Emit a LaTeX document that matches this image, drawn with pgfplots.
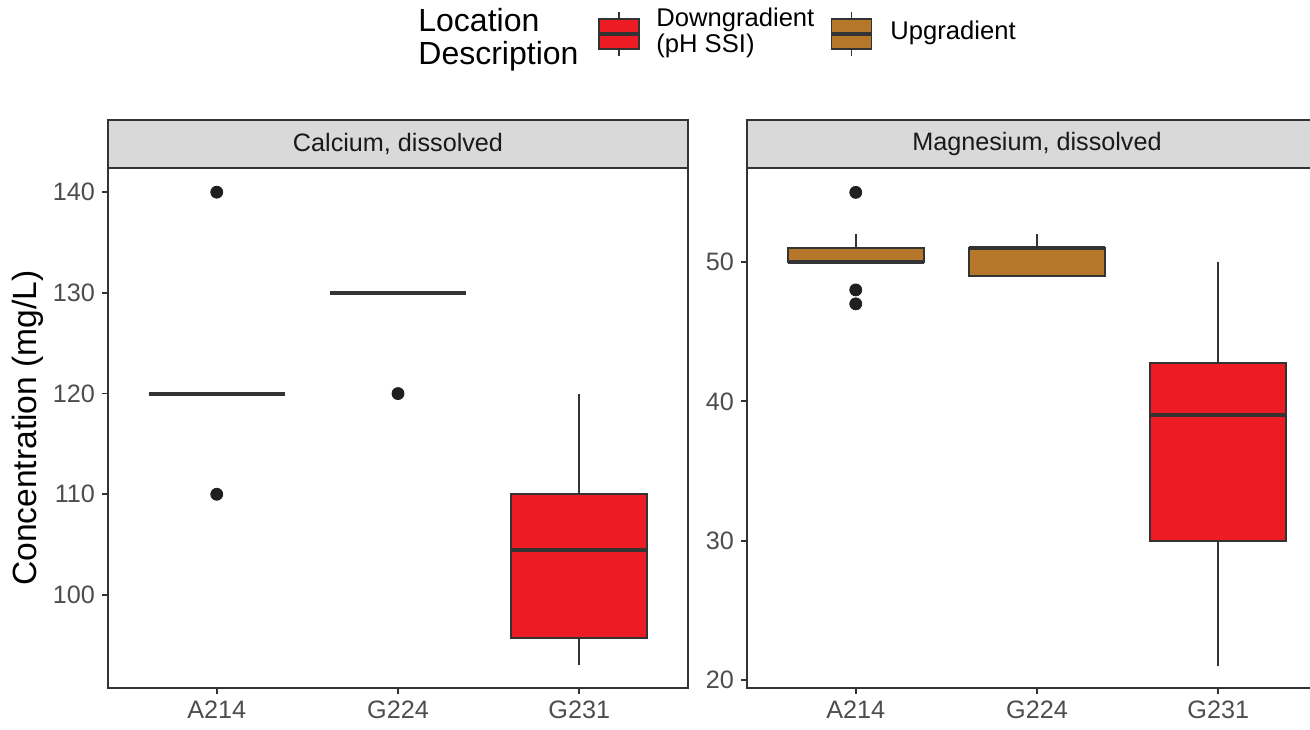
\documentclass[border=0pt]{standalone}
\usepackage{pgfplots}
\pgfplotsset{compat=1.18}
\usepgfplotslibrary{statistics}
\usepackage{fontspec}
\setmainfont{Liberation Sans}

\definecolor{boxred}{HTML}{ED1C24}
\definecolor{boxbrown}{HTML}{B5782B}
\definecolor{lnc}{HTML}{333333}
\definecolor{tickc}{HTML}{4D4D4D}
\definecolor{stripc}{HTML}{D9D9D9}
\definecolor{dotc}{HTML}{1F1F1F}

\pgfplotsset{
  panel/.style={
    scale only axis, width=290pt, height=260pt, anchor=south west,
    xmin=0.4, xmax=3.6, xtick={1,2,3}, xticklabels={A214,G224,G231},
    axis line style={draw=lnc, line width=0.9pt},
    tick style={draw=lnc, line width=0.9pt},
    tick align=outside, major tick length=3pt, tick pos=left,
    ticklabel style={font=\fontsize{12.6}{14}\selectfont, text=tickc},
    /pgf/number format/assume math mode=true,
    clip=false,
    boxplot/draw direction=y,
    boxplot/box extend=0.75,
    boxplot/whisker extend=0,
    boxplot/every box/.style={draw=lnc, line width=0.9pt},
    boxplot/every whisker/.style={draw=lnc, line width=0.9pt},
    boxplot/every median/.style={draw=lnc, line width=2pt},
    cycle list={{draw=lnc, mark=*}},
  },
  ol/.style={mark=*, mark size=3pt, mark options={fill=dotc, draw=dotc, line width=0.4pt}},
}

\begin{document}
\begin{tikzpicture}
% Calcium panel
\begin{axis}[panel, name=ca, at={(54pt,20.5pt)},
  ymin=90.76, ymax=142.4, ytick={100,110,120,130,140}]
\addplot+[fill=boxbrown, ol, boxplot prepared={lower whisker=120, lower quartile=120, median=120,
  upper quartile=120, upper whisker=120, draw position=1}]
  table[row sep=\\, y index=0] {v\\140\\110\\};
\addplot+[fill=boxbrown, ol, boxplot prepared={lower whisker=130, lower quartile=130, median=130,
  upper quartile=130, upper whisker=130, draw position=2}]
  table[row sep=\\, y index=0] {v\\120\\};
\addplot+[fill=boxred, ol, boxplot prepared={lower whisker=93, lower quartile=95.7, median=104.5,
  upper quartile=110, upper whisker=120, draw position=3}]
  coordinates {};
\end{axis}
% Magnesium panel
\begin{axis}[panel, name=mg, at={(373.5pt,20.5pt)},
  ymin=19.43, ymax=56.75, ytick={20,30,40,50}]
\addplot+[fill=boxbrown, ol, boxplot prepared={lower whisker=50, lower quartile=50, median=50,
  upper quartile=51, upper whisker=52, draw position=1}]
  table[row sep=\\, y index=0] {v\\55\\48\\47\\};
\addplot+[fill=boxbrown, ol, boxplot prepared={lower whisker=49, lower quartile=49, median=51,
  upper quartile=51, upper whisker=52, draw position=2}]
  coordinates {};
\addplot+[fill=boxred, ol, boxplot prepared={lower whisker=21, lower quartile=30, median=39,
  upper quartile=42.75, upper whisker=50, draw position=3}]
  coordinates {};
\end{axis}

% facet strips
\foreach \ax/\lab in {ca/{Calcium, dissolved}, mg/{Magnesium, dissolved}}{
  \draw[fill=stripc, draw=lnc, line width=0.9pt] (\ax.north west) rectangle ([yshift=24pt]\ax.north east);
  \node[font=\fontsize{12.6}{14}\selectfont, text=black!90] at ([yshift=12pt]\ax.north) {\lab};
}

% y axis title
\node[rotate=90, font=\fontsize{16.8}{18}\selectfont] at (14pt,150.5pt) {Concentration (mg/L)};

% legend
\node[anchor=west, align=left, font=\fontsize{16}{16.5}\selectfont, inner sep=0pt] at (209pt,344.5pt) {Location\\Description};
\foreach \cx/\col in {309.5/boxred, 425.75/boxbrown}{
  \draw[lnc, line width=0.9pt] (\cx pt,336.5pt) -- (\cx pt,358.5pt);
  \draw[fill=\col, draw=lnc, line width=0.9pt] (\cx pt-10pt,340pt) rectangle (\cx pt+10pt,355pt);
  \draw[lnc, line width=1.6pt] (\cx pt-10pt,347.5pt) -- (\cx pt+10pt,347.5pt);
}
\node[anchor=west, align=left, font=\fontsize{12.8}{13}\selectfont, inner sep=0pt] at (328pt,348pt) {Downgradient\\(pH SSI)};
\node[anchor=west, font=\fontsize{12.8}{13}\selectfont, inner sep=0pt] at (445pt,348pt) {Upgradient};

\pgfresetboundingbox
\useasboundingbox (0,0) rectangle (655pt,364.5pt);
\end{tikzpicture}
\end{document}
